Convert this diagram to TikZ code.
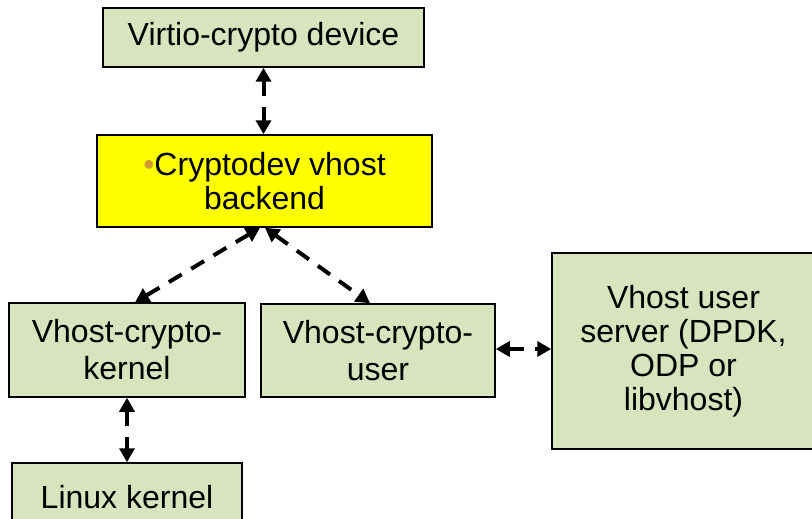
\documentclass[tikz,border=0pt]{standalone}
\usepackage{fontspec}
\setmainfont{Liberation Sans}
\usetikzlibrary{arrows.meta}
\definecolor{boxgreen}{RGB}{215,228,189}
\definecolor{boxyellow}{RGB}{255,255,0}
\definecolor{bulletgold}{RGB}{204,153,51}
\tikzset{
  block/.style={draw=black, line width=1.5pt, fill=boxgreen, align=center,
    inner sep=0pt, font=\fontsize{32}{34}\selectfont},
  widelines/.style={font=\fontsize{32}{37}\selectfont},
  link/.style={line width=4pt, dash pattern=on 15pt off 11pt,
    {Triangle[length=14pt,width=15pt]}-{Triangle[length=14pt,width=15pt]}},
}
\begin{document}
\begin{tikzpicture}[x=1pt,y=-1pt]
  \clip (0,0) rectangle (812,519);
  \fill[white] (0,0) rectangle (812,519);

  % boxes
  \node[block, minimum width=321pt, minimum height=59pt] (virtio) at (263.5,37.5)
    {Virtio-crypto device};
  \node[block, fill=boxyellow, minimum width=335pt, minimum height=92pt] (backend) at (264.5,181)
    {{\color{bulletgold}\textbullet}Cryptodev vhost\\backend};
  \node[block, widelines, minimum width=236pt, minimum height=94pt] (kernel) at (127,350)
    {Vhost-crypto-\\kernel};
  \node[block, widelines, minimum width=234pt, minimum height=93pt] (user) at (378,350.5)
    {Vhost-crypto-\\user};
  \node[block, minimum width=263pt, minimum height=196pt] (server) at (683.5,351)
    {Vhost user\\server (DPDK,\\ODP or\\libvhost)};
  \node[block, minimum width=230pt, minimum height=68pt] (linux) at (127,497)
    {Linux kernel};

  % connectors
  \draw[link] (virtio.south) -- (virtio.south |- backend.north);
  \draw[link] ([xshift=-4.5pt]backend.south) -- ([xshift=8pt]kernel.north);
  \draw[link] ([xshift=0.5pt]backend.south) -- ([xshift=-8pt]user.north);
  \draw[link] ([yshift=1.5pt]user.east) -- ([yshift=1.5pt]user.east -| server.west);
  \draw[link] (linux.north |- kernel.south) -- (linux.north);
\end{tikzpicture}
\end{document}
